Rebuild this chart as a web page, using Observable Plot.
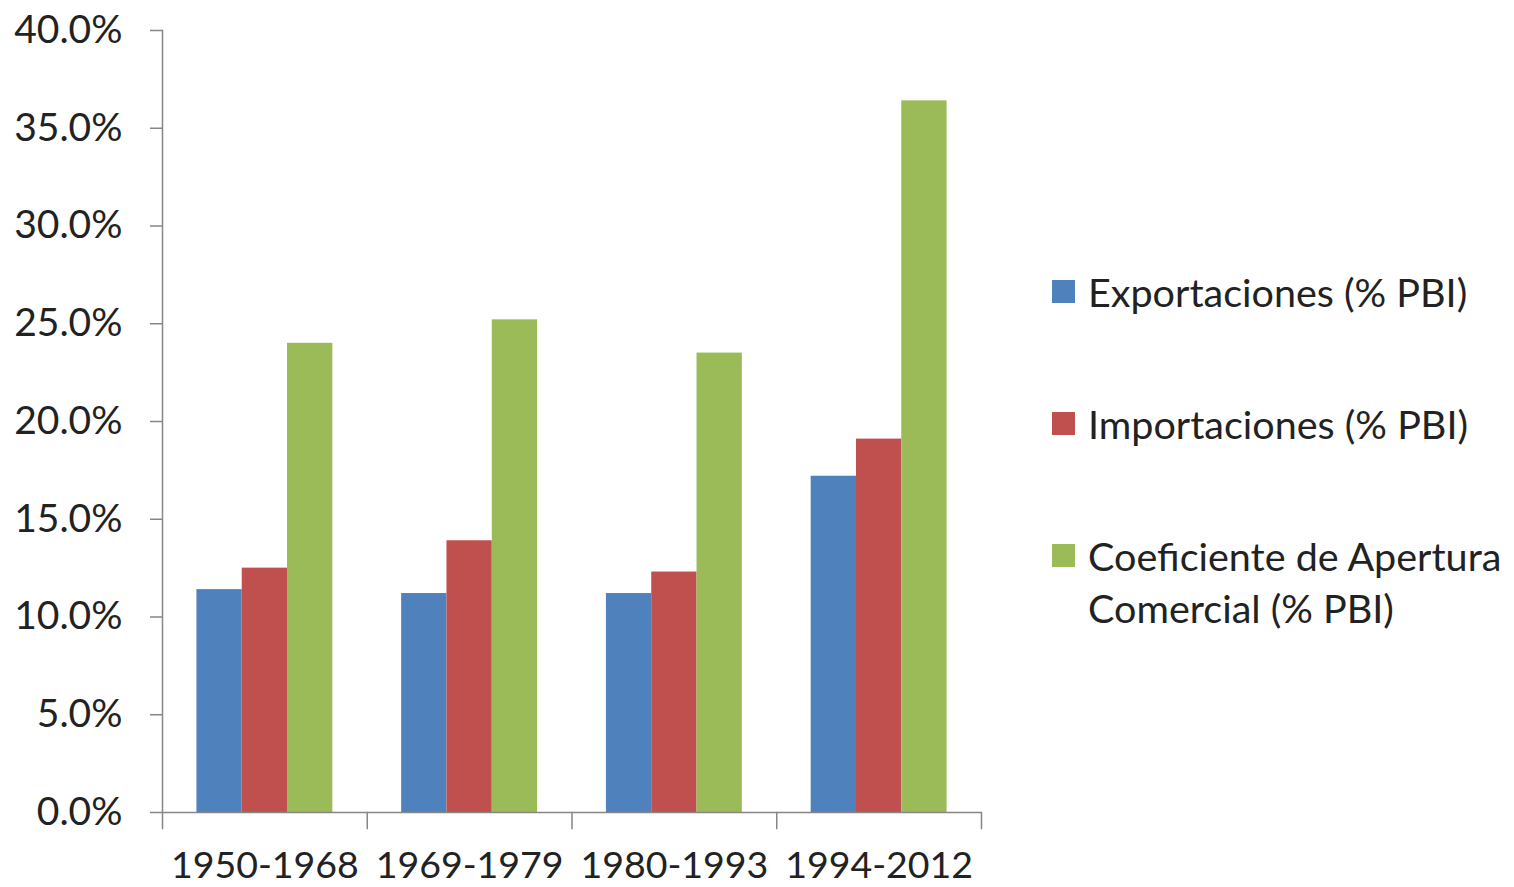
<!DOCTYPE html>
<html>
<head>
<meta charset="utf-8">
<script src="https://cdn.jsdelivr.net/npm/d3@7"></script>
<script src="https://cdn.jsdelivr.net/npm/@observablehq/plot@0.6"></script>
<style>
  html, body { margin: 0; padding: 0; background: #fff; }
  #wrap { position: relative; width: 1514px; height: 887px; font-family: Lato, "Open Sans", sans-serif; }
  #chart { position: absolute; left: 0; top: 0; }
  .legend-item { position: absolute; left: 1052px; display: flex; align-items: flex-start; color: #222; font-size: 39.5px; line-height: 52px; white-space: nowrap; }
  .legend-item .sw { width: 23px; height: 23px; margin-top: 14px; margin-right: 13px; flex: none; }
</style>
</head>
<body>
<div id="wrap">
  <div id="chart"></div>
</div>
<script>
// ---- data ----
const periods = ["1950-1968", "1969-1979", "1980-1993", "1994-2012"];
const series = ["Exportaciones (% PBI)", "Importaciones (% PBI)", "Coeficiente de Apertura Comercial (% PBI)"];
const legendLabels = ["Exportaciones (% PBI)", "Importaciones (% PBI)", "Coeficiente de Apertura<br>Comercial (% PBI)"];
const exportaciones = [11.4, 11.2, 11.2, 17.2];
const importaciones = [12.5, 13.9, 12.3, 19.1];
const coeficiente = [24.0, 25.2, 23.5, 36.4];
const colors = ["#4F81BD", "#C0504D", "#9BBB59"];
const yTicks = [0, 5, 10, 15, 20, 25, 30, 35, 40];

const values = [exportaciones, importaciones, coeficiente];
const data = [];
periods.forEach((p, i) => {
  series.forEach((s, j) => data.push({period: p, series: s, value: values[j][i]}));
});

const W = 1000, H = 887, mTop = 30, mBottom = 75, mLeft = 162, mRight = 19;
const plotH = H - mTop - mBottom;
const axisGray = "#868686";

const chart = Plot.plot({
  width: W,
  height: H,
  marginTop: mTop,
  marginBottom: mBottom,
  marginLeft: mLeft,
  marginRight: mRight,
  style: {fontFamily: "Lato, 'Open Sans', sans-serif", color: "#222", background: "#fff"},
  fx: {domain: periods, padding: 0, label: null, round: false},
  x: {domain: series, paddingInner: 0, paddingOuter: 0.76, axis: null, round: false},
  y: {domain: [0, 40], label: null, axis: null},
  color: {domain: series, range: colors},
  marks: [
    Plot.barY(data, {fx: "period", x: "series", y: "value", fill: "series", inset: 0}),
    Plot.ruleY([0], {stroke: axisGray, strokeWidth: 1.5}),
    Plot.frame({anchor: "left", facet: "super", stroke: axisGray, strokeWidth: 1.5, insetBottom: -16}),
    Plot.frame({anchor: "right", stroke: axisGray, strokeWidth: 1.5, insetTop: plotH, insetBottom: -16}),
    Plot.axisY({ticks: yTicks, tickFormat: d => d.toFixed(1) + "%", tickSize: 12, tickPadding: 28,
                stroke: axisGray, strokeWidth: 1.5, fill: "#222", fontSize: 39, label: null}),
    Plot.axisFx({anchor: "bottom", tickSize: 0, tickPadding: 39, fill: "#222", fontSize: 37.5, label: null})
  ]
});
document.getElementById("chart").appendChild(chart);

// legend
const wrap = document.getElementById("wrap");
const legendTops = [266, 398, 530];
series.forEach((s, j) => {
  const item = document.createElement("div");
  item.className = "legend-item";
  item.style.top = legendTops[j] + "px";
  item.innerHTML = `<span class="sw" style="background:${colors[j]}"></span><span>${legendLabels[j]}</span>`;
  wrap.appendChild(item);
});
</script>
</body>
</html>
